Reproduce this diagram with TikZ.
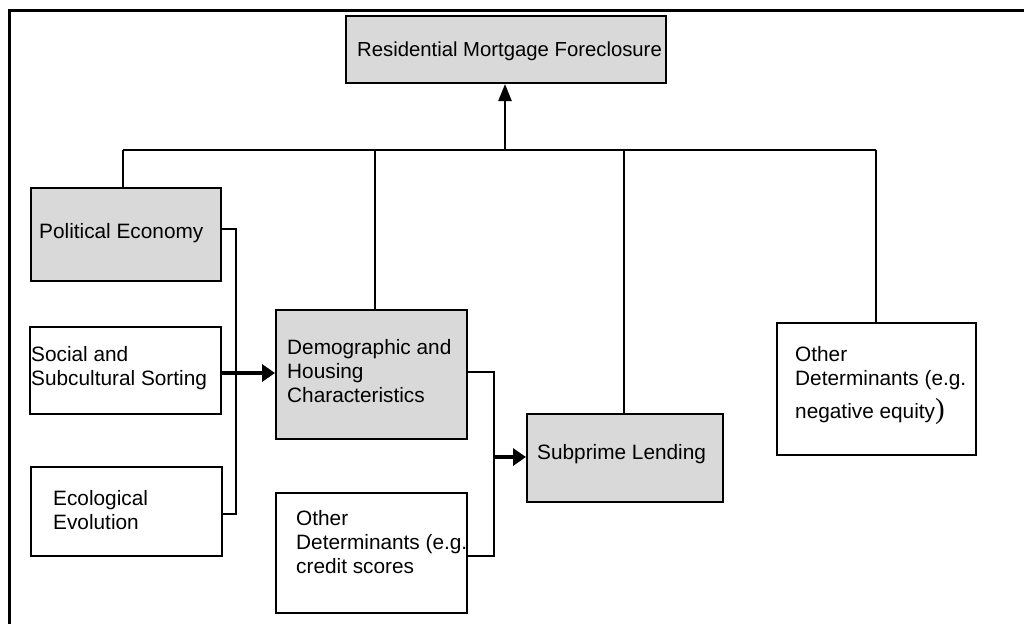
\documentclass[tikz,border=0pt]{standalone}
\usepackage{fontspec}
\setmainfont{Liberation Sans}
\usetikzlibrary{arrows.meta}
\definecolor{boxgray}{RGB}{217,217,217}
\tikzset{
  box/.style={draw=black, line width=2pt, inner sep=0pt, rectangle},
  graybox/.style={box, fill=boxgray},
  whitebox/.style={box, fill=white},
  txt/.style={anchor=base west, inner sep=0pt, align=left, font=\fontsize{20.8}{24}\selectfont},
  conn/.style={draw=black, line width=2pt},
  thickarrow/.style={draw=black, line width=3.6pt, -{Triangle[length=13pt,width=17pt]}},
  uparrow/.style={draw=black, line width=2.4pt, -{Triangle[length=17pt,width=13pt]}},
}
\begin{document}
\begin{tikzpicture}[x=1pt,y=-1pt]
\useasboundingbox (0,0) rectangle (1024,624);
% frame (top and left)
\draw[line width=3pt] (1024,10) -- (9.5,10) -- (9.5,624);

% boxes
\node[graybox, minimum width=320, minimum height=67] (top) at (506,49.5) {};
\node[graybox, minimum width=190, minimum height=93] (pe) at (126,234.5) {};
\node[whitebox, minimum width=191, minimum height=87] (soc) at (125.5,370.5) {};
\node[whitebox, minimum width=191, minimum height=89] (eco) at (126.5,511.5) {};
\node[graybox, minimum width=191, minimum height=129] (dem) at (371.5,374.5) {};
\node[whitebox, minimum width=191, minimum height=120] (ocs) at (371.5,553) {};
\node[graybox, minimum width=196, minimum height=88] (sub) at (625,458) {};
\node[whitebox, minimum width=199, minimum height=132] (oth) at (876.5,389) {};

% texts (anchor = baseline of last line)
\node[txt, font=\fontsize{20.3}{24}\selectfont] (ttop) at (357,56) {Residential Mortgage Foreclosure};
\node[txt] (tpe) at (39,238) {Political Economy};
\node[txt] (tsoc) at (31,385) {Social and\\Subcultural Sorting};
\node[txt] (teco) at (53,529) {Ecological\\Evolution};
\node[txt] (tdem) at (287,402) {Demographic and\\Housing\\Characteristics};
\node[txt] (tocs) at (296,573) {Other\\Determinants (e.g.\\credit scores};
\node[txt] (tsub) at (537,459) {Subprime Lending};
\node[txt] (toth) at (795,418) {Other\\Determinants (e.g.\\[7pt]negative equity{\fontspec{Liberation Serif}\fontsize{29}{29}\selectfont )}};

% bus coordinates
\coordinate (b1) at (123,150);
\coordinate (b2) at (375,150);
\coordinate (ba) at (505,150);
\coordinate (b3) at (624,150);
\coordinate (b4) at (876,150);
\draw[conn] (b1) -- (b4);
\draw[conn] (b1) -- (b1 |- pe.north);
\draw[conn] (b2) -- (b2 |- dem.north);
\draw[conn] (b3) -- (b3 |- sub.north);
\draw[conn] (b4) -- (b4 |- oth.north);
\draw[uparrow] (ba) -- (ba |- top.south);

% left bracket
\coordinate (l1) at (236,229);
\coordinate (l2) at (236,514);
\coordinate (lc) at (236,373);
\draw[conn] (pe.east |- l1) -- (l1) -- (l2) -- (eco.east |- l2);
\draw[thickarrow] (soc.east |- lc) -- (dem.west |- lc);

% right bracket
\coordinate (r1) at (494,372);
\coordinate (r2) at (494,556);
\coordinate (rc) at (494,457);
\draw[conn] (dem.east |- r1) -- (r1) -- (r2) -- (ocs.east |- r2);
\draw[thickarrow] (rc) -- (sub.west |- rc);
\end{tikzpicture}
\end{document}
